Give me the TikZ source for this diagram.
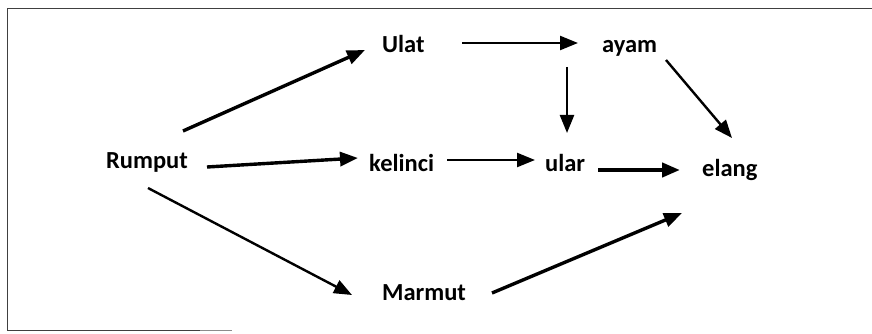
\documentclass[tikz,border=0pt]{standalone}
\usepackage{fontspec}
\setmainfont{Carlito}
\usetikzlibrary{arrows.meta}
\begin{document}
\begin{tikzpicture}[x=1pt,y=-1pt,
  lbl/.style={anchor=base west,inner sep=0pt,font=\fontsize{24.5}{28}\selectfont\bfseries},
  arr/.style={line width=2.4pt,-{Triangle[length=18pt,width=14pt]}},
  thickarr/.style={arr,line width=3.4pt},
  frame/.style={line width=1pt,black!75}]
\useasboundingbox (0,0) rectangle (872,334);
\draw[frame] (872,9) -- (7,9) -- (7,330) -- (200,330);
\draw[frame,black!45] (200,330) -- (232,330);
\node[lbl] (rumput) at (106,168) {Rumput};
\node[lbl] (ulat) at (382,53) {Ulat};
\node[lbl] (kelinci) at (369,171) {kelinci};
\node[lbl] (marmut) at (382,300) {Marmut};
\node[lbl] (ayam) at (602,53) {ayam};
\node[lbl] (ular) at (545,171) {ular};
\node[lbl] (elang) at (702,176) {elang};
\draw[thickarr] ([shift={(77,-37)}]rumput.base west) -- ([shift={(-17,-3)}]ulat.base west);
\draw[thickarr] ([shift={(101,-1)}]rumput.base west) -- ([shift={(-11,-13)}]kelinci.base west);
\draw[arr] ([shift={(42,20)}]rumput.base west) -- ([shift={(-30,-5)}]marmut.base west);
\draw[arr] ([shift={(80,-10)}]ulat.base west) -- ([shift={(-24,-10)}]ayam.base west);
\draw[arr] ([shift={(-35,14)}]ayam.base west) -- ([shift={(22,-38)}]ular.base west);
\draw[arr] ([shift={(64,7)}]ayam.base west) -- ([shift={(30,-38)}]elang.base west);
\draw[arr] ([shift={(78,-11)}]kelinci.base west) -- ([shift={(-10,-11)}]ular.base west);
\draw[thickarr,line width=4.2pt] ([shift={(53,-1)}]ular.base west) -- ([shift={(-22,-6)}]elang.base west);
\draw[thickarr] ([shift={(110,-7)}]marmut.base west) -- ([shift={(-20,37)}]elang.base west);
\end{tikzpicture}
\end{document}
